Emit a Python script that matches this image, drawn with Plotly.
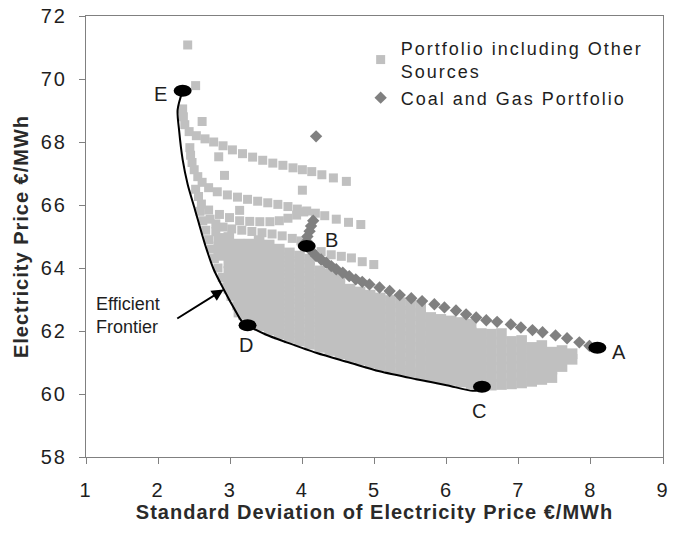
import plotly.graph_objects as go

# ---------------------------------------------------------------
# Portfolio risk / price data  (SD in EUR/MWh, price in EUR/MWh)
# ---------------------------------------------------------------

# Portfolios including other sources: distinct upper rows (sd, price)
upper_row_1 = [(2.34, 69.05), (2.35, 68.8), (2.37, 68.55), (2.43, 68.33), (2.53, 68.2),
               (2.65, 68.1), (2.77, 68.0), (2.90, 67.88), (3.03, 67.75), (3.17, 67.63),
               (3.31, 67.52), (3.45, 67.42), (3.59, 67.33), (3.73, 67.26), (3.87, 67.18),
               (4.00, 67.12), (4.13, 67.06), (4.27, 66.96), (4.43, 66.86), (4.61, 66.75)]
upper_row_2 = [(2.44, 67.82), (2.45, 67.58), (2.47, 67.35), (2.50, 67.12), (2.55, 66.9),
               (2.61, 66.72), (2.70, 66.55), (2.82, 66.42), (2.96, 66.32), (3.10, 66.25),
               (3.24, 66.18), (3.38, 66.12), (3.52, 66.07), (3.66, 66.02), (3.80, 65.95),
               (3.93, 65.87), (4.06, 65.81), (4.18, 65.74), (4.31, 65.66), (4.47, 65.55),
               (4.64, 65.45), (4.81, 65.38)]
upper_row_3 = [(2.52, 66.5), (2.56, 66.27), (2.60, 66.03), (2.70, 65.84), (2.85, 65.7),
               (2.99, 65.6), (3.13, 65.5), (3.27, 65.48), (3.41, 65.47), (3.55, 65.47),
               (3.68, 65.5), (3.80, 65.58), (3.92, 65.68), (4.02, 65.78)]
upper_row_4 = [(2.72, 65.55), (2.80, 65.4), (2.90, 65.3), (3.02, 65.24), (3.16, 65.2),
               (3.30, 65.16), (3.44, 65.12), (3.58, 65.08), (3.72, 65.02), (3.86, 64.94),
               (3.98, 64.86), (4.26, 64.52), (4.40, 64.42), (4.54, 64.37), (4.68, 64.32),
               (4.83, 64.2), (4.99, 64.11)]
edge_points = [(2.58, 65.8), (2.62, 65.5), (2.66, 65.2), (2.80, 65.15), (2.70, 64.9),
               (2.74, 64.6), (2.78, 64.3), (2.83, 64.0), (2.89, 63.7), (2.95, 63.4),
               (3.01, 63.1), (3.09, 62.8), (3.17, 62.5)]
scattered_points = [(2.41, 71.08), (2.52, 69.79), (2.61, 68.65), (2.84, 67.53),
                    (2.92, 66.94), (3.13, 65.83), (4.00, 66.47)]

# Dense part of the cloud: prices per SD column (None = no portfolio there)
cloud_sd_columns = [2.84, 2.98, 3.12, 3.26, 3.40, 3.54, 3.68, 3.82, 3.96, 4.10,
                    4.24, 4.38, 4.52, 4.66, 4.80, 4.94, 5.08, 5.22, 5.36, 5.50,
                    5.64, 5.78, 5.92, 6.06, 6.20, 6.34, 6.48, 6.62, 6.76, 6.90,
                    7.04, 7.18, 7.32, 7.46, 7.60, 7.74]
cloud_band_0 = [64.4, 63.35, 62.6, 62.33, 62.17, 62.03, 61.9, 61.78, 61.68, 61.58,
                61.48, 61.38, 61.28, 61.17, 61.08, 60.98, 60.89, 60.81, 60.74, 60.67,
                60.6, 60.54, 60.48, 60.43, 60.38, 60.33, 60.3, 60.28, 60.3, 60.32,
                60.35, 60.4, 60.46, 60.52, None, None]
cloud_band_1 = [64.67, 63.62, 62.87, 62.6, 62.44, 62.3, 62.17, 62.05, 61.95, 61.85,
                61.75, 61.65, 61.55, 61.44, 61.35, 61.25, 61.16, 61.08, 61.01, 60.94,
                60.87, 60.81, 60.75, 60.7, 60.65, 60.6, 60.57, 60.55, 60.57, 60.59,
                60.62, 60.67, 60.73, 60.79, 60.87, None]
cloud_band_2 = [64.94, 63.89, 63.14, 62.87, 62.71, 62.57, 62.44, 62.32, 62.22, 62.12,
                62.02, 61.92, 61.82, 61.71, 61.62, 61.52, 61.43, 61.35, 61.28, 61.21,
                61.14, 61.08, 61.02, 60.97, 60.92, 60.87, 60.84, 60.82, 60.84, 60.86,
                60.89, 60.94, 61.0, 61.06, 61.12, 61.1]
cloud_band_3 = [None, 64.16, 63.41, 63.14, 62.98, 62.84, 62.71, 62.59, 62.49, 62.39,
                62.29, 62.19, 62.09, 61.98, 61.89, 61.79, 61.7, 61.62, 61.55, 61.48,
                61.41, 61.35, 61.29, 61.24, 61.19, 61.14, 61.11, 61.09, 61.11, 61.13,
                61.16, 61.21, 61.27, 61.33, 61.38, 61.28]
cloud_band_4 = [None, 64.43, 63.68, 63.41, 63.25, 63.11, 62.98, 62.86, 62.76, 62.66,
                62.56, 62.46, 62.36, 62.25, 62.16, 62.06, 61.97, 61.89, 61.82, 61.75,
                61.68, 61.62, 61.56, 61.51, 61.46, 61.41, 61.38, 61.36, 61.38, 61.4,
                61.43, 61.48, 61.54, None, None, None]
cloud_band_5 = [None, 64.7, 63.95, 63.68, 63.52, 63.38, 63.25, 63.13, 63.03, 62.93,
                62.83, 62.73, 62.63, 62.52, 62.43, 62.33, 62.24, 62.16, 62.09, 62.02,
                61.95, 61.89, 61.83, 61.78, 61.73, 61.68, 61.65, 61.63, 61.65, 61.67,
                61.7, None, None, None, None, None]
cloud_band_6 = [None, 64.97, 64.22, 63.95, 63.79, 63.65, 63.52, 63.4, 63.3, 63.2,
                63.1, 63.0, 62.9, 62.79, 62.7, 62.6, 62.51, 62.43, 62.36, 62.29,
                62.22, 62.16, 62.1, 62.05, 62.0, 61.95, 61.92, 61.9, 61.92, None,
                None, None, None, None, None, None]
cloud_band_7 = [None, None, 64.49, 64.22, 64.06, 63.92, 63.79, 63.67, 63.57, 63.47,
                63.37, 63.27, 63.17, 63.06, 62.97, 62.87, 62.78, 62.7, 62.63, 62.56,
                62.49, 62.43, 62.37, 62.32, 62.27, 62.22, None, None, None, None,
                None, None, None, None, None, None]
cloud_band_8 = [None, None, 64.76, 64.49, 64.33, 64.19, 64.06, 63.94, 63.84, 63.74,
                63.64, 63.54, 63.44, 63.33, 63.24, 63.14, 63.05, 62.97, 62.9, 62.83,
                62.76, None, None, None, None, None, None, None, None, None,
                None, None, None, None, None, None]
cloud_band_9 = [None, None, None, 64.76, 64.6, 64.46, 64.33, 64.21, 64.11, 64.01,
                63.91, 63.81, 63.71] + [None] * 23
cloud_band_10 = [None, None, None, None, 64.87, 64.73, 64.6, 64.48, 64.38, 64.28] + [None] * 26

# Coal and gas only portfolios
coal_gas_sd = [4.19, 4.15, 4.12, 4.10, 4.07, 4.06, 4.12, 4.19, 4.26, 4.33,
               4.40, 4.47, 4.56, 4.65, 4.74, 4.83, 4.93, 5.07, 5.21, 5.35,
               5.51, 5.66, 5.83, 5.97, 6.13, 6.27, 6.41, 6.55, 6.70, 6.89,
               7.03, 7.19, 7.33, 7.51, 7.67, 7.84, 7.98]
coal_gas_price = [68.18, 65.5, 65.33, 65.17, 65.0, 64.85, 64.55, 64.38, 64.27, 64.17,
                  64.06, 63.96, 63.85, 63.74, 63.64, 63.56, 63.48, 63.38, 63.27, 63.14,
                  63.04, 62.95, 62.85, 62.75, 62.65, 62.53, 62.43, 62.34, 62.29, 62.21,
                  62.11, 62.03, 61.96, 61.86, 61.77, 61.64, 61.53]

# Efficient frontier
frontier_sd = [2.34, 2.27, 2.29, 2.34, 2.41, 2.51, 2.65, 2.77, 2.91, 3.06, 3.16,
               3.24, 3.50, 3.78, 4.20, 4.65, 5.07, 5.58, 6.00, 6.36, 6.45]
frontier_price = [69.63, 69.02, 68.39, 67.44, 66.65, 65.86, 64.75, 63.96, 63.32, 62.69, 62.31,
                  62.18, 61.88, 61.64, 61.3, 61.0, 60.72, 60.47, 60.28, 60.1, 60.13]
frontier_arrow_index = 8

# Highlighted portfolios
marked_names = ["A", "B", "C", "D", "E"]
marked_sd = [8.09, 4.06, 6.49, 3.24, 2.34]
marked_price = [61.47, 64.70, 60.23, 62.18, 69.63]
# label offsets in pixels (dx right, dy up)
marked_label_shift = {"A": (22, -4), "B": (25, 6), "C": (-3, -24), "D": (-2, -20), "E": (-22, -3)}

# ---------------------------------------------------------------
FONT = "Liberation Sans, Arial, Helvetica, sans-serif"
TEXT = "#1e1e1e"
SQUARE = "#c0c0c0"
DIAMOND = "#808080"
AXIS = "#808080"

fig = go.Figure()

sparse = upper_row_1 + upper_row_2 + upper_row_3 + upper_row_4 + edge_points + scattered_points
fig.add_trace(go.Scatter(
    x=[p[0] for p in sparse], y=[p[1] for p in sparse], mode="markers",
    name="Portfolio including Other<br>Sources", legendgroup="other",
    marker=dict(symbol="square", size=9, color=SQUARE, line=dict(width=0)),
    hoverinfo="skip"))

bands = [cloud_band_0, cloud_band_1, cloud_band_2, cloud_band_3, cloud_band_4, cloud_band_5,
         cloud_band_6, cloud_band_7, cloud_band_8, cloud_band_9, cloud_band_10]
dense_x, dense_y = [], []
for band in bands:
    for sd, price in zip(cloud_sd_columns, band):
        if price is not None:
            dense_x.append(sd)
            dense_y.append(price)
fig.add_trace(go.Scatter(
    x=dense_x, y=dense_y, mode="markers", legendgroup="other", showlegend=False,
    marker=dict(symbol="square", size=10.6, color=SQUARE, line=dict(width=0)),
    hoverinfo="skip"))

fig.add_trace(go.Scatter(
    x=coal_gas_sd, y=coal_gas_price, mode="markers", name="Coal and Gas Portfolio",
    marker=dict(symbol="diamond", size=9.5, color=DIAMOND, line=dict(width=0)),
    hoverinfo="skip"))

fig.add_trace(go.Scatter(
    x=frontier_sd, y=frontier_price, mode="lines", showlegend=False,
    line=dict(color="black", width=2, shape="spline", smoothing=0.8),
    hoverinfo="skip"))

# black ovals for the marked portfolios and their letters
shapes = []
annotations = []
for name, sd, price in zip(marked_names, marked_sd, marked_price):
    shapes.append(dict(type="circle", xref="x", yref="y", xsizemode="pixel", ysizemode="pixel",
                       xanchor=sd, yanchor=price, x0=-9, x1=9, y0=-6, y1=6,
                       fillcolor="black", line=dict(width=0), layer="above"))
    dx, dy = marked_label_shift[name]
    annotations.append(dict(x=sd, y=price, xref="x", yref="y", text=name, showarrow=False,
                            xshift=dx, yshift=dy, font=dict(family=FONT, size=20, color=TEXT)))

ax_pt = (frontier_sd[frontier_arrow_index], frontier_price[frontier_arrow_index])
annotations.append(dict(x=ax_pt[0], y=ax_pt[1], xref="x", yref="y", text="",
                        showarrow=True, ax=-48, ay=30, arrowhead=2, arrowsize=1.2,
                        arrowwidth=2, arrowcolor="black", standoff=0))
annotations.append(dict(x=ax_pt[0], y=ax_pt[1], xref="x", yref="y",
                        text="Efficient<br>Frontier", showarrow=False, align="left",
                        xanchor="center", yanchor="middle", xshift=-96, yshift=-26,
                        font=dict(family=FONT, size=18, color=TEXT)))

axis_common = dict(showgrid=False, zeroline=False, showline=True, linecolor=AXIS, linewidth=1,
                   mirror=True, ticks="outside", ticklen=6, tickcolor=AXIS, tickwidth=1,
                   automargin=False, tickfont=dict(family=FONT, size=20, color=TEXT))

fig.update_layout(
    width=681, height=533,
    margin=dict(l=86, r=18, t=16, b=76, autoexpand=False),
    paper_bgcolor="white", plot_bgcolor="white",
    font=dict(family=FONT, color=TEXT),
    shapes=shapes, annotations=annotations,
    xaxis=dict(range=[1, 9], tick0=1, dtick=1, ticklabelstandoff=9,
               title=dict(text="<b>Standard Deviation of Electricity Price €/MWh</b>",
                          font=dict(family=FONT, size=20, color="#2a2a2a"), standoff=3),
               **axis_common),
    yaxis=dict(range=[58, 72], tick0=58, dtick=2, ticklabelstandoff=8,
               title=dict(text="<b>Electricity Price €/MWh</b>",
                          font=dict(family=FONT, size=20, color="#2a2a2a"), standoff=10),
               **axis_common),
    legend=dict(x=0.476, y=0.969, xanchor="left", yanchor="top", bgcolor="rgba(0,0,0,0)",
                font=dict(family=FONT, size=18, color=TEXT), traceorder="normal",
                tracegroupgap=0, itemsizing="trace"),
    showlegend=True,
)

spacing_css = (
    "var st=document.createElement('style');"
    "st.textContent='.legendtext{letter-spacing:2px}"
    ".legend .scrollbox{clip-path:none !important}"
    ".xtick text,.ytick text{letter-spacing:2px}"
    ".xtitle,.ytitle{letter-spacing:1px}';"
    "document.head.appendChild(st);"
)

fig.write_html("out.html", post_script=spacing_css)
